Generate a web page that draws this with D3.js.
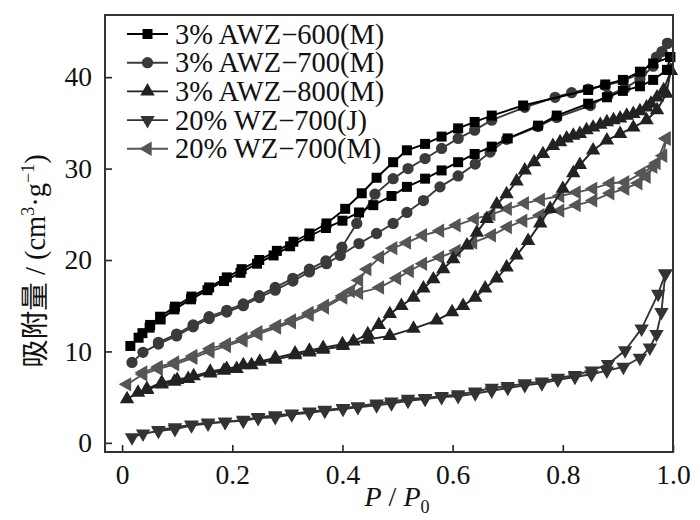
<!DOCTYPE html>
<html>
<head>
<meta charset="utf-8">
<script src="https://cdn.jsdelivr.net/npm/d3@7/dist/d3.min.js"></script>
<style>
  body { margin: 0; background: #fff; }
  text { font-family: "Liberation Serif", "Times New Roman", serif; }
</style>
</head>
<body>
<div id="chart"></div>
<script>
// series names, legend order
var seriesNames = ["3% AWZ\u2212600(M)", "3% AWZ\u2212700(M)", "3% AWZ\u2212800(M)", "20% WZ\u2212700(J)", "20% WZ\u2212700(M)"];

// each series: adsorption branch and desorption branch, [P/P0, volume]
var awz600Ads = [[0.015,10.6],[0.03,11.5],[0.05,12.6],[0.07,13.5],[0.095,14.6],[0.125,15.7],[0.155,16.7],[0.185,17.7],[0.215,18.6],[0.245,19.6],[0.275,20.5],[0.305,21.5],[0.34,22.6],[0.37,23.5],[0.40,24.3],[0.43,25.2],[0.456,26.0],[0.489,27.0],[0.517,28.0],[0.55,28.9],[0.58,29.8],[0.61,30.7],[0.64,31.6],[0.671,32.4],[0.70,33.3],[0.755,34.7],[0.789,35.8],[0.846,37.1],[0.88,37.8],[0.909,38.5],[0.94,39.0],[0.964,39.7],[0.989,40.8],[0.995,42.2]];
var awz600Des = [[0.995,42.2],[0.964,41.5],[0.94,40.6],[0.909,39.7],[0.877,39.2],[0.846,38.6],[0.728,36.9],[0.671,35.8],[0.64,35.1],[0.61,34.4],[0.58,33.5],[0.55,32.7],[0.517,32.0],[0.492,30.7],[0.462,29.0],[0.435,27.3],[0.405,25.6],[0.371,24.0],[0.34,22.9],[0.311,22.0],[0.281,21.0],[0.249,20.0],[0.217,19.0],[0.19,18.1],[0.158,17.0],[0.126,16.0],[0.096,14.9],[0.069,13.8],[0.051,12.9],[0.037,12.0]];

var awz700Ads = [[0.018,8.8],[0.038,9.9],[0.066,10.8],[0.099,11.7],[0.129,12.7],[0.158,13.6],[0.19,14.3],[0.22,15.0],[0.249,15.9],[0.278,16.7],[0.31,17.7],[0.34,18.7],[0.371,19.6],[0.396,20.5],[0.43,21.8],[0.462,22.9],[0.492,24.0],[0.517,25.2],[0.547,26.5],[0.577,28.0],[0.61,29.2],[0.641,30.5],[0.668,31.8],[0.698,33.2],[0.755,34.6],[0.789,35.6],[0.85,36.9],[0.882,38.0],[0.913,38.8],[0.94,39.8],[0.964,41.2],[0.98,42.8],[0.99,43.7]];
var awz700Des = [[0.99,43.7],[0.97,42.2],[0.943,40.5],[0.91,39.6],[0.877,39.1],[0.846,38.7],[0.816,38.3],[0.786,37.8],[0.731,36.7],[0.671,35.3],[0.64,34.2],[0.61,33.3],[0.58,32.2],[0.55,31.1],[0.519,30.0],[0.492,28.9],[0.459,27.2],[0.426,24.0],[0.399,21.4],[0.37,19.9],[0.34,19.0],[0.31,18.0],[0.278,17.0],[0.249,16.1],[0.22,15.2],[0.19,14.5],[0.158,13.8],[0.129,12.9],[0.099,11.9],[0.066,11.0]];

var awz800Ads = [[0.009,4.8],[0.029,5.5],[0.045,5.8],[0.072,6.4],[0.095,6.7],[0.12,7.0],[0.16,7.6],[0.185,7.9],[0.208,8.1],[0.235,8.5],[0.278,9.1],[0.314,9.6],[0.34,9.9],[0.365,10.2],[0.401,10.6],[0.446,11.3],[0.486,11.7],[0.529,12.5],[0.571,13.4],[0.599,14.3],[0.619,15.0],[0.641,15.9],[0.659,16.9],[0.68,18.0],[0.698,19.2],[0.716,20.5],[0.737,22.1],[0.759,24.0],[0.777,25.6],[0.80,27.8],[0.819,29.5],[0.831,30.4],[0.855,32.0],[0.88,33.1],[0.904,33.8],[0.928,34.5],[0.952,35.3],[0.971,36.4],[0.988,38.2],[0.996,40.7]];
var awz800Des = [[0.996,40.7],[0.983,38.6],[0.971,37.8],[0.96,37.1],[0.952,36.7],[0.94,36.3],[0.928,36.0],[0.916,35.8],[0.904,35.5],[0.892,35.3],[0.88,35.1],[0.868,34.8],[0.855,34.5],[0.843,34.2],[0.831,33.8],[0.819,33.6],[0.807,33.3],[0.795,32.9],[0.782,32.5],[0.764,31.6],[0.748,30.7],[0.731,29.8],[0.716,28.6],[0.698,27.2],[0.68,26.1],[0.662,24.5],[0.644,23.0],[0.626,21.6],[0.601,20.1],[0.583,19.0],[0.565,17.9],[0.547,16.9],[0.529,15.9],[0.507,15.0],[0.486,14.1],[0.466,12.9],[0.446,11.9],[0.42,11.1],[0.40,10.8],[0.365,10.4],[0.34,10.1],[0.314,9.8],[0.278,9.3],[0.25,8.9],[0.22,8.5],[0.19,8.1],[0.16,7.8],[0.13,7.3],[0.10,6.9],[0.072,6.6],[0.045,5.9]];

var wzjAds = [[0.018,0.6],[0.038,1.0],[0.066,1.3],[0.096,1.5],[0.126,1.9],[0.156,2.1],[0.187,2.3],[0.22,2.4],[0.247,2.7],[0.278,2.8],[0.308,3.1],[0.34,3.3],[0.368,3.5],[0.401,3.7],[0.428,3.9],[0.462,4.1],[0.489,4.3],[0.519,4.6],[0.55,4.8],[0.58,5.0],[0.61,5.1],[0.641,5.4],[0.671,5.7],[0.70,6.0],[0.731,6.3],[0.762,6.5],[0.791,6.9],[0.822,7.2],[0.852,7.5],[0.88,7.9],[0.91,8.3],[0.94,9.3],[0.958,10.4],[0.97,11.9],[0.979,14.3],[0.986,18.5]];
var wzjDes = [[0.986,18.5],[0.973,16.3],[0.943,12.5],[0.913,10.1],[0.882,8.6],[0.852,7.9],[0.822,7.4],[0.791,7.1],[0.762,6.7],[0.731,6.5],[0.70,6.2],[0.671,6.0],[0.641,5.6],[0.61,5.3],[0.58,5.1],[0.55,4.9],[0.519,4.8],[0.489,4.5],[0.462,4.3],[0.428,4.0],[0.401,3.8],[0.368,3.6],[0.34,3.4],[0.308,3.2],[0.278,3.0],[0.247,2.8],[0.22,2.5],[0.187,2.3],[0.156,2.2],[0.126,2.0],[0.096,1.7],[0.066,1.4]];

var wzmAds = [[0.009,6.4],[0.038,7.5],[0.066,8.1],[0.096,8.6],[0.129,9.3],[0.16,10.0],[0.19,10.6],[0.22,11.2],[0.247,11.9],[0.281,12.6],[0.308,13.2],[0.34,14.0],[0.368,14.8],[0.401,15.9],[0.43,16.4],[0.468,17.0],[0.499,18.0],[0.522,18.8],[0.546,19.6],[0.577,20.3],[0.607,21.0],[0.637,21.9],[0.671,22.7],[0.70,23.6],[0.728,24.3],[0.759,24.9],[0.795,25.4],[0.825,26.0],[0.855,26.5],[0.886,27.3],[0.913,27.8],[0.937,28.4],[0.952,29.1],[0.97,30.6],[0.988,33.3]];
var wzmDes = [[0.988,33.3],[0.982,31.4],[0.964,30.2],[0.943,29.5],[0.913,28.5],[0.886,28.4],[0.855,27.8],[0.825,27.4],[0.795,27.0],[0.76,26.6],[0.731,26.2],[0.70,25.6],[0.67,25.0],[0.64,24.5],[0.607,23.8],[0.577,23.2],[0.546,22.7],[0.517,21.9],[0.492,21.3],[0.468,20.3],[0.445,19.0],[0.43,17.8],[0.415,16.6],[0.401,16.1],[0.368,15.0],[0.34,14.2],[0.308,13.4],[0.281,12.8],[0.247,12.1],[0.22,11.4],[0.19,10.8],[0.16,10.3],[0.129,9.5],[0.096,8.8],[0.066,8.3],[0.038,7.7]];

var xTicks = [0, 0.2, 0.4, 0.6, 0.8, 1.0];
var yTicks = [0, 10, 20, 30, 40];

var seriesList = [
  { name: seriesNames[0], ads: awz600Ads, des: awz600Des, color: "#000000", shape: d3.symbolSquare, rot: 0, size: 100 },
  { name: seriesNames[1], ads: awz700Ads, des: awz700Des, color: "#3a3a3a", shape: d3.symbolCircle, rot: 0, size: 100 },
  { name: seriesNames[2], ads: awz800Ads, des: awz800Des, color: "#222222", shape: d3.symbolTriangle, rot: 0, size: 90 },
  { name: seriesNames[3], ads: wzjAds, des: wzjDes, color: "#333333", shape: d3.symbolTriangle, rot: 180, size: 90 },
  { name: seriesNames[4], ads: wzmAds, des: wzmDes, color: "#555555", shape: d3.symbolTriangle, rot: -90, size: 90 }
];

var W = 700, H = 520;
var plotLeft = 105, plotRight = 673, plotTop = 15, plotBottom = 452;

var svg = d3.select("#chart").append("svg")
  .attr("width", W).attr("height", H);

var x = d3.scaleLinear().domain([-0.031, 1.0]).range([plotLeft, plotRight]);
var y = d3.scaleLinear().domain([-1.0, 46.8]).range([plotBottom, plotTop]);

// series, drawn back to front
var line = d3.line().x(function (d) { return x(d[0]); }).y(function (d) { return y(d[1]); });
var plot = svg.append("g");
seriesList.slice().reverse().forEach(function (s) {
  [s.ads, s.des].forEach(function (branch) {
    plot.append("path").datum(branch)
      .attr("d", line)
      .attr("fill", "none")
      .attr("stroke", s.color)
      .attr("stroke-width", 1.9);
    plot.append("g").selectAll("path")
      .data(branch).enter().append("path")
      .attr("d", d3.symbol().type(s.shape).size(s.size))
      .attr("transform", function (d) {
        return "translate(" + x(d[0]) + "," + y(d[1]) + ") rotate(" + s.rot + ")";
      })
      .attr("fill", s.color);
  });
});

// axes, ticks inside
var fmt = function (d) { return d === 0 ? "0" : d3.format(".1f")(d); };
var xAxis = svg.append("g")
  .attr("transform", "translate(0," + plotBottom + ")")
  .call(d3.axisBottom(x).tickValues(xTicks).tickFormat(fmt).tickSizeInner(-7).tickSizeOuter(0).tickPadding(12));
var yAxis = svg.append("g")
  .attr("transform", "translate(" + plotLeft + ",0)")
  .call(d3.axisLeft(y).tickValues(yTicks).tickSizeInner(-7).tickSizeOuter(0).tickPadding(13));
[xAxis, yAxis].forEach(function (a) {
  a.select(".domain").remove();
  a.selectAll("line").attr("stroke", "#222").attr("stroke-width", 1.6);
  a.selectAll("text").style("font-size", "27.5px").attr("fill", "#111")
    .style("font-family", "'Liberation Serif', 'Times New Roman', serif");
});

// frame
svg.append("rect")
  .attr("x", plotLeft).attr("y", plotTop)
  .attr("width", plotRight - plotLeft).attr("height", plotBottom - plotTop)
  .attr("fill", "none").attr("stroke", "#333").attr("stroke-width", 2);

// legend
var legend = svg.append("g");
seriesList.forEach(function (s, i) {
  var ly = 34 + i * 28.7;
  var g = legend.append("g").attr("transform", "translate(0," + ly + ")");
  g.append("line").attr("x1", 127).attr("x2", 168).attr("y1", 0).attr("y2", 0)
    .attr("stroke", s.color).attr("stroke-width", 1.9);
  g.append("path").attr("d", d3.symbol().type(s.shape).size(s.size))
    .attr("transform", "translate(147.5,0) rotate(" + s.rot + ")")
    .attr("fill", s.color);
  g.append("text").attr("x", 175).attr("y", 9.5)
    .style("font-size", "28.5px").attr("fill", "#111")
    .text(s.name);
});

// x label
var xl = svg.append("text")
  .attr("x", 397).attr("y", 506)
  .attr("text-anchor", "middle")
  .style("font-size", "28px").attr("fill", "#111");
xl.append("tspan").style("font-style", "italic").text("P");
xl.append("tspan").text(" / ");
xl.append("tspan").style("font-style", "italic").text("P");
xl.append("tspan").attr("dy", 7).style("font-size", "18px").text("0");

// y label
var yl = svg.append("text")
  .attr("transform", "translate(45,261) rotate(-90)")
  .attr("text-anchor", "middle")
  .style("font-size", "28.5px").attr("fill", "#111");
yl.append("tspan").style("font-family", "'Noto Sans CJK SC', sans-serif").text("吸附量");
yl.append("tspan").text(" / (cm");
yl.append("tspan").attr("dy", -11).style("font-size", "18px").text("3");
yl.append("tspan").attr("dy", 11).text("\u00b7g");
yl.append("tspan").attr("dy", -11).style("font-size", "18px").text("\u22121");
yl.append("tspan").attr("dy", 11).text(")");
</script>
</body>
</html>
